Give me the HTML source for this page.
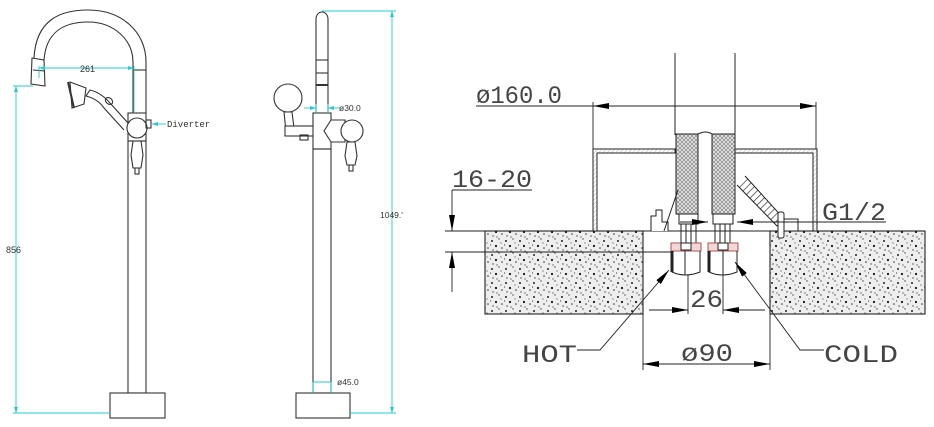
<!DOCTYPE html>
<html><head><meta charset="utf-8"><style>
html,body{margin:0;padding:0;background:#fff;width:934px;height:427px;overflow:hidden}
svg{display:block}
</style></head><body>
<svg width="934" height="427" viewBox="0 0 934 427" xmlns="http://www.w3.org/2000/svg" font-family="Liberation Sans, sans-serif">
<defs>
<pattern id="sp" width="14" height="14" patternUnits="userSpaceOnUse">
<rect width="14" height="14" fill="#eee"/>
<circle cx="2" cy="3" r="1" fill="#222"/><circle cx="9" cy="1" r="0.7" fill="#444"/>
<circle cx="6" cy="8" r="1.1" fill="#111"/><circle cx="12" cy="10" r="0.8" fill="#333"/>
<circle cx="3" cy="12" r="0.7" fill="#444"/><circle cx="11" cy="5" r="0.6" fill="#555"/>
<circle cx="7" cy="13" r="0.6" fill="#333"/><circle cx="0.5" cy="7" r="0.6" fill="#444"/>
</pattern>
<pattern id="hx" width="4" height="4" patternUnits="userSpaceOnUse">
<rect width="4" height="4" fill="#e4e4e4"/><path d="M0 4L4 0M0 0L4 4" stroke="#777" stroke-width="0.6"/>
</pattern>
<pattern id="hs" width="5" height="5" patternUnits="userSpaceOnUse" patternTransform="rotate(45)">
<rect width="5" height="5" fill="#fff"/><line x1="0" y1="0" x2="0" y2="5" stroke="#333" stroke-width="1.4"/>
</pattern>
<pattern id="hw" width="3" height="3" patternUnits="userSpaceOnUse" patternTransform="rotate(45)">
<rect width="3" height="3" fill="#fff"/><line x1="0" y1="0" x2="0" y2="3" stroke="#888" stroke-width="0.6"/>
</pattern>
<marker id="ab" viewBox="0 0 16 6" refX="16" refY="3" markerWidth="16" markerHeight="6" orient="auto-start-reverse" markerUnits="userSpaceOnUse"><path d="M0 0L16 3L0 6z" fill="#000"/></marker>
<marker id="ac" viewBox="0 0 6 4" refX="6" refY="2" markerWidth="6" markerHeight="4" orient="auto-start-reverse" markerUnits="userSpaceOnUse"><path d="M0 0L6 2L0 4z" fill="#2cc"/></marker>
</defs>

<!-- LEFT FAUCET -->
<g fill="none" stroke="#333" stroke-width="1.1">
<path d="M34 58 C36 20 60 10 88 10 C122 10 146 32 146 62 L146 113"/>
<path d="M44 60 C46 32 64 22 88 22 C114 22 133 40 133 62 L133 113"/>
<path d="M32 58 L44 60 L45 86 L31 84 Z" fill="#fff"/>
<line x1="33" y1="70" x2="45" y2="71"/>
<line x1="133" y1="70" x2="146" y2="70"/>
<rect x="128" y="113" width="18" height="28" fill="#fff"/>
<circle cx="137" cy="128" r="10" fill="#fff"/>
<rect x="146" y="120" width="5" height="8"/>
<path d="M133 141 L141 141 L143 155 L141 168 L133 168 L131 155Z" fill="#fff"/>
<rect x="135" y="168" width="4" height="6"/>
<rect x="128" y="141" width="18" height="252"/>
<rect x="110" y="393" width="55" height="25" fill="#fff"/>
<path d="M128 123 L110 103 C104 96 98 92 90 90 L86 96 C94 98 100 102 104 108 L124 130"/>
<path d="M70 82 L86 88 L84 104 L72 108 Z" fill="#fff"/>
<line x1="68" y1="82" x2="74" y2="108" stroke-width="2"/>
<ellipse cx="109" cy="101" rx="4" ry="3" transform="rotate(40 109 101)"/>
</g>
<g stroke="#2cc" stroke-width="0.9" fill="none">
<line x1="16" y1="86" x2="16" y2="413" marker-start="url(#ac)" marker-end="url(#ac)"/>
<line x1="13" y1="86" x2="33" y2="86"/>
<line x1="13" y1="413" x2="110" y2="413"/>
<line x1="39" y1="68" x2="134" y2="68" marker-start="url(#ac)" marker-end="url(#ac)"/>
<line x1="39" y1="66" x2="39" y2="78"/><line x1="134" y1="66" x2="134" y2="112"/>
<line x1="152" y1="124" x2="166" y2="124" marker-start="url(#ac)"/>
</g>
<g font-size="9" fill="#333">
<text x="80" y="72">261</text>
<text x="6" y="253">856</text>
<text x="167" y="127" style="font-family:'Liberation Mono',monospace">Diverter</text>
</g>

<!-- MIDDLE FAUCET -->
<g fill="none" stroke="#333" stroke-width="1.1">
<path d="M316 113 L316 19 A6 7 0 0 1 328 19 L328 113"/>
<line x1="316" y1="60" x2="328" y2="60"/><line x1="316" y1="73" x2="328" y2="73"/>
<line x1="316" y1="85" x2="328" y2="85" stroke-width="2"/>
<circle cx="288" cy="98" r="14" fill="#fff"/>
<path d="M284 112 L292 112 L294 128 L290 132 L286 132 Z" fill="#fff"/>
<rect x="285" y="126" width="29" height="10" fill="#fff"/>
<rect x="300" y="135" width="8" height="5"/>
<rect x="313" y="113" width="18" height="36" fill="#fff"/>
<path d="M331 120 L324 131 L331 142 L345 142 L345 120Z" fill="#fff"/>
<circle cx="352" cy="131" r="11" fill="#fff"/>
<path d="M347 142 L355 142 L357 156 L355 165 L347 165 L345 156Z" fill="#fff"/>
<rect x="349" y="165" width="4" height="6"/>
<rect x="313" y="149" width="18" height="244"/>
<rect x="296" y="393" width="54" height="25" fill="#fff"/>
</g>
<g stroke="#2cc" stroke-width="0.9" fill="none">
<line x1="392" y1="11" x2="392" y2="413" marker-start="url(#ac)" marker-end="url(#ac)"/>
<line x1="322" y1="11" x2="396" y2="11"/><line x1="350" y1="413" x2="396" y2="413"/>
<line x1="304" y1="108" x2="316" y2="108" marker-end="url(#ac)"/>
<line x1="340" y1="108" x2="328" y2="108" marker-end="url(#ac)"/>
<line x1="316" y1="104" x2="316" y2="113"/><line x1="328" y1="104" x2="328" y2="113"/>
<line x1="313" y1="382" x2="313" y2="393"/><line x1="331" y1="382" x2="331" y2="393"/>
<line x1="313" y1="382" x2="331" y2="382"/>
</g>
<g font-size="8.5" fill="#333">
<text x="339" y="111">ø30.0</text>
<text x="337" y="385">ø45.0</text>
<text x="380" y="218">1049.'</text>
</g>

<!-- RIGHT SECTION -->
<g stroke="#222" stroke-width="1.1">
<rect x="485" y="231" width="158" height="83" fill="url(#sp)"/>
<rect x="770" y="231" width="155" height="83" fill="url(#sp)"/>
<line x1="643" y1="231" x2="770" y2="231"/>
</g>
<g fill="none" stroke="#222" stroke-width="1">
<line x1="675" y1="53" x2="675" y2="135"/><line x1="735" y1="53" x2="735" y2="135"/>
<path d="M593 231 L593 149 L675 149 L675 153 L597 153 L597 231 Z" fill="url(#hw)"/>
<path d="M817 231 L817 149 L735 149 L735 153 L813 153 L813 231 Z" fill="url(#hw)"/>
<rect x="676" y="134" width="22" height="80" fill="url(#hx)"/>
<rect x="712" y="134" width="23" height="80" fill="url(#hx)"/>
<path d="M698 134 Q706 130 712 134" />
<path d="M737 185 L777 226 L785 220 L745 176" fill="url(#hs)"/>
<rect x="778" y="212" width="6" height="26" rx="2" fill="#fff"/>
<rect x="784" y="219" width="14" height="12" fill="#fff"/>
<path d="M651 231 L651 216 L656 216 L656 210 L662 210 L662 222 L668 222 L668 231" fill="#fff"/>
<line x1="664" y1="231" x2="678" y2="190"/>
<rect x="679" y="214" width="19" height="10" fill="#fff"/><rect x="713" y="214" width="20" height="10" fill="#fff"/>
<path d="M681 224 L681 243 M686 224 L686 243 M691 224 L691 243 M696 224 L696 243"/>
<path d="M715 224 L715 243 M720 224 L720 243 M725 224 L725 243 M730 224 L730 243"/>
<rect x="671" y="243" width="30" height="8" fill="#f3d6d6" stroke="#a55"/>
<rect x="708" y="243" width="30" height="8" fill="#f3d6d6" stroke="#a55"/>
<rect x="681" y="243" width="10" height="7" fill="#fff"/><rect x="718" y="243" width="10" height="7" fill="#fff"/>
<path d="M672 251 L672 272 Q685 278 700 272 L700 251" stroke-width="1"/>
<path d="M672 251 L672 272" stroke-width="3"/>
<path d="M709 251 L709 272 Q722 278 737 272 L737 251" stroke-width="1"/>
<path d="M709 251 L709 272" stroke-width="3"/>
<line x1="685" y1="251" x2="685" y2="275"/><line x1="723" y1="251" x2="723" y2="275"/>
</g>
<!-- dimensions -->
<g stroke="#222" stroke-width="0.9" fill="none">
<line x1="476" y1="106" x2="593" y2="106"/>
<line x1="593" y1="106" x2="816" y2="106" marker-start="url(#ab)" marker-end="url(#ab)"/>
<line x1="593" y1="102" x2="593" y2="149"/><line x1="816" y1="102" x2="816" y2="149"/>
<line x1="452" y1="190" x2="532" y2="190"/>
<line x1="452" y1="190" x2="452" y2="231" marker-end="url(#ab)"/>
<line x1="452" y1="292" x2="452" y2="252" marker-end="url(#ab)"/>
<line x1="445" y1="231" x2="485" y2="231"/><line x1="445" y1="252" x2="672" y2="252"/>
<line x1="820" y1="222" x2="886" y2="222"/>
<line x1="740" y1="222" x2="820" y2="222"/>
<line x1="680" y1="222" x2="708" y2="222" marker-end="url(#ab)"/>
<line x1="770" y1="222" x2="737" y2="222" marker-end="url(#ab)"/>
<line x1="649" y1="310" x2="688" y2="310" marker-end="url(#ab)"/>
<line x1="765" y1="310" x2="723" y2="310" marker-end="url(#ab)"/>
<line x1="688" y1="275" x2="688" y2="314"/><line x1="723" y1="275" x2="723" y2="314"/>
<line x1="643" y1="314" x2="643" y2="370"/><line x1="770" y1="314" x2="770" y2="370"/>
<line x1="643" y1="364" x2="770" y2="364" marker-start="url(#ab)" marker-end="url(#ab)"/>
<path d="M577 350 L600 350 L669 270" marker-end="url(#ab)"/>
<path d="M824 350 L800 350 L735 262" marker-end="url(#ab)"/>
</g>
<g fill="#444" style="font-family:'Liberation Mono',monospace">
<text x="476" y="103" font-size="25" textLength="86" lengthAdjust="spacingAndGlyphs">ø160.0</text>
<text x="452" y="187" font-size="25" textLength="80" lengthAdjust="spacingAndGlyphs">16-20</text>
<text x="822" y="220" font-size="25" textLength="64" lengthAdjust="spacingAndGlyphs">G1/2</text>
<text x="690" y="307" font-size="25" textLength="33" lengthAdjust="spacingAndGlyphs">26</text>
<text x="681" y="361" font-size="25" textLength="52" lengthAdjust="spacingAndGlyphs">ø90</text>
<text x="522" y="362" font-size="25" textLength="55" lengthAdjust="spacingAndGlyphs">HOT</text>
<text x="824" y="362" font-size="25" textLength="74" lengthAdjust="spacingAndGlyphs">COLD</text>
</g>
</svg>
</body></html>
